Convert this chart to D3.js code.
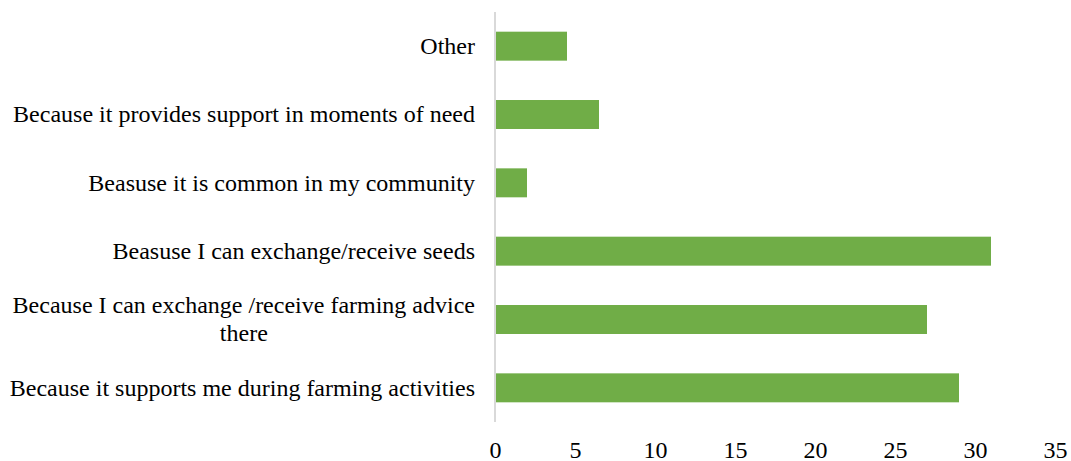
<!DOCTYPE html>
<html>
<head>
<meta charset="utf-8">
<script src="https://cdn.jsdelivr.net/npm/d3@7"></script>
<style>
  html, body { margin: 0; padding: 0; background: #fff; }
</style>
</head>
<body>
<svg id="chart" width="1071" height="461"></svg>
<script>
// Reasons for belonging, top to bottom ("\n" marks a wrapped label)
const categories = [
  "Other",
  "Because it provides support in moments of need",
  "Beasuse it is common in my community",
  "Beasuse I can exchange/receive seeds",
  "Because I can exchange /receive farming advice\nthere",
  "Because it supports me during farming activities"
];
const values = [4.5, 6.5, 2, 31, 27, 29];
const xTicks = [0, 5, 10, 15, 20, 25, 30, 35];

const FONT = "Liberation Serif";
const svg = d3.select("#chart");
const plotLeft = 495, plotRight = 1055, plotTop = 12, plotBottom = 422;
const fontSize = 24;

const x = d3.scaleLinear().domain([0, 35]).range([plotLeft, plotRight]);
const y = d3.scaleBand().domain(categories).range([plotTop, plotBottom])
  .paddingInner(0.576).paddingOuter(0.288);

// bars
svg.append("g").selectAll("rect")
  .data(values)
  .join("rect")
  .attr("x", x(0))
  .attr("y", (d, i) => y(categories[i]))
  .attr("width", d => x(d) - x(0))
  .attr("height", y.bandwidth())
  .attr("fill", "#70ad47");

// vertical category axis line
svg.append("line")
  .attr("x1", plotLeft).attr("x2", plotLeft)
  .attr("y1", plotTop).attr("y2", plotBottom)
  .attr("stroke", "#d9d9d9").attr("stroke-width", 2);

// value axis tick labels (no axis line)
const xAxis = d3.axisBottom(x).tickValues(xTicks).tickSize(0).tickPadding(0);
const gx = svg.append("g").attr("transform", `translate(0,${plotBottom})`).call(xAxis);
gx.select(".domain").remove();
gx.attr("font-family", null).attr("font-size", null);
gx.selectAll("text")
  .style("font-family", FONT)
  .style("font-size", fontSize + "px")
  .attr("fill", "#000")
  .attr("dy", null)
  .attr("y", 36);

// category labels; wrapped labels are centred as a block
const labelRight = 475;
const lineH = 28;
const gy = svg.append("g");
categories.forEach(c => {
  const lines = c.split("\n");
  const cy = y(c) + y.bandwidth() / 2;
  const t = gy.append("text")
    .style("font-family", FONT)
    .style("font-size", fontSize + "px")
    .attr("fill", "#000");
  lines.forEach((ln, k) => {
    t.append("tspan")
      .attr("y", cy + (k - (lines.length - 1) / 2) * lineH)
      .attr("dy", "0.32em")
      .text(ln);
  });
  if (lines.length === 1) {
    t.attr("text-anchor", "end").selectAll("tspan").attr("x", labelRight);
  } else {
    let maxW = 0;
    t.selectAll("tspan").each(function () {
      maxW = Math.max(maxW, this.getComputedTextLength());
    });
    t.attr("text-anchor", "middle").selectAll("tspan").attr("x", labelRight - maxW / 2);
  }
});
</script>
</body>
</html>
